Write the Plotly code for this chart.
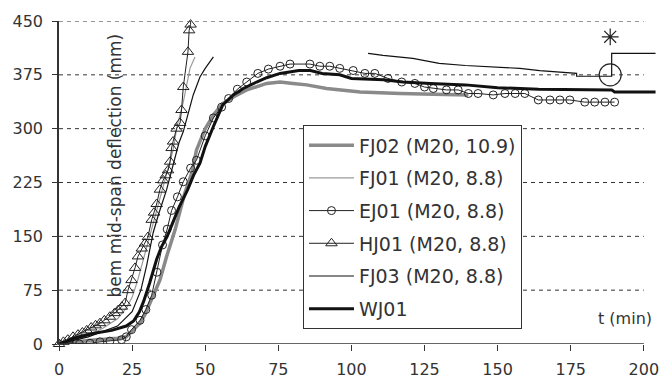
import plotly.graph_objects as go

# ---------------- data ----------------
X_TICKS = [0, 25, 50, 75, 100, 125, 150, 175, 200]
Y_TICKS = [0, 75, 150, 225, 300, 375, 450]

FJ02_T = [0, 10, 20, 23, 25, 27.7, 29.5, 31.1, 34.5, 36.8, 39.7, 43, 45.4, 47, 50, 53, 56, 59.6,
          64.2, 71, 75.6, 80, 84.7, 91.5, 96, 103, 116.6, 140]
FJ02_D = [0, 5, 8, 10, 18, 29, 42, 57, 89, 122, 159, 210, 238, 270, 300, 320, 335, 344,
          354, 363, 365, 363, 361, 356, 354, 351, 349, 347]

FJ01_T = [0, 5, 10, 15, 20, 23, 25, 27, 29, 31, 33, 36.2, 39, 40.5, 42.5, 44.8, 45.9, 46.5]
FJ01_D = [0, 5, 12, 22, 35, 50, 65, 90, 120, 150, 180, 228, 270, 306, 337, 384, 393, 400]

EJ01_T = [0, 3.5, 7, 10.6, 14, 17.4, 21.4, 23, 24.8, 27.7, 29.7, 31.7, 33.5, 35.4, 37, 38.5, 40.5,
          42.5, 45, 47, 50, 52.8, 55.6, 58, 61, 64.2, 68, 71.6, 75.6, 79, 85.8, 89.2, 92.6, 96,
          100.6, 104.6, 108, 112.5, 117.2, 121.7, 125, 128, 132.5, 136.5, 140, 143.3, 148.5,
          152.5, 156, 159.3, 163.9, 167.9, 171.3, 174.7, 179.8, 183.2, 186.7, 190]
EJ01_D = [0, 0, 0, 1, 3, 4, 6, 10, 20, 33, 48, 68, 100, 138, 160, 186, 205,
          226, 245, 256, 290, 315, 330, 342, 355, 365, 377, 383, 387, 390, 390, 387, 387, 384,
          381, 377, 377, 370, 365, 363, 358, 356, 354, 354, 349, 349, 347,
          349, 349, 349, 340, 340, 340, 340, 337, 337, 337, 337]

HJ01_T = [0, 1.5, 3, 4.8, 6.5, 8, 9.5, 11, 12.5, 14, 15.5, 17.4, 19, 20.2, 21.5, 22.6, 23.6, 24.8,
          26, 27, 28.3, 29.4, 30.4, 31.7, 32.5, 33.4, 34.5, 35.6, 36.5, 37.3, 38, 38.5, 39, 40.2,
          41.4, 41.9, 42.5, 44.1, 44.5, 45, 45]
HJ01_D = [0, 3, 6, 10, 13, 16, 19, 23, 26, 29, 33, 38, 43, 47, 52, 57, 75, 89,
          106, 122, 133, 140, 149, 173, 183, 195, 215, 228, 235, 242, 254, 273, 282, 300,
          308, 326, 358, 407, 437, 445, 451]

FJ03_T = [0, 10, 20, 25, 28, 30, 32.2, 34, 36.8, 39, 41, 42.5, 44.8, 45.9, 48.2, 50, 52.8, None,
          105.7, 110.8, 121, 130, 139, 148.4, 157.6, 164.4, 171.3, 177, 177, 189, 189, 204]
FJ03_D = [0, 10, 25, 45, 75, 110, 155, 180, 215, 250, 280, 296, 328, 347, 372, 384, 400, None,
          405, 402, 398, 391, 388, 386, 384, 381, 379, 377, 373, 373, 405, 405]

WJ01_T = [0, 5, 12, 18, 23, 25.5, 27.5, 29, 31, 33.4, 35, 37, 38.5, 41, 44, 46, 48.2, 50, 52.8,
          56, 59.6, 63, 67.6, 71, 75.6, 82, 86, 90, 96, 100, 111, 117.6, 127, 139, 150, 164,
          189, 190, 204]
WJ01_D = [0, 8, 15, 19, 25, 32, 45, 60, 85, 118, 135, 150, 165, 190, 215, 235, 252, 275, 303,
          333, 347, 356, 365, 371, 377, 381, 381, 377, 375, 370, 368, 365, 363, 361, 357, 355,
          354, 351, 351]

FAIL_T = [188.5]
FAIL_CIRCLE_D = [375]
FAIL_STAR_D = [428]

INK = "#333333"
FONT = "DejaVu Sans"

fig = go.Figure()

fig.add_trace(go.Scatter(x=FJ02_T, y=FJ02_D, mode="lines", name="FJ02 (M20, 10.9)",
                         legendgroup="a", line=dict(color="#8a8a8a", width=3.5)))
fig.add_trace(go.Scatter(x=FJ01_T, y=FJ01_D, mode="lines", name="FJ01 (M20, 8.8)",
                         legendgroup="b", line=dict(color="#9a9a9a", width=1.2)))
fig.add_trace(go.Scatter(x=EJ01_T, y=EJ01_D, mode="lines+markers", name="EJ01 (M20, 8.8)",
                         legendgroup="c", line=dict(color="#222222", width=1),
                         marker=dict(symbol="circle-open", size=8, color="#222222",
                                     line=dict(width=1))))
fig.add_trace(go.Scatter(x=HJ01_T, y=HJ01_D, mode="lines+markers", name="HJ01 (M20, 8.8)",
                         legendgroup="d", cliponaxis=False, line=dict(color="#222222", width=1),
                         marker=dict(symbol="triangle-up-open", size=10, color="#222222",
                                     line=dict(width=1))))
fig.add_trace(go.Scatter(x=FJ03_T, y=FJ03_D, mode="lines", name="FJ03 (M20, 8.8)",
                         legendgroup="e", connectgaps=False,
                         line=dict(color="#111111", width=1.2)))
fig.add_trace(go.Scatter(x=WJ01_T, y=WJ01_D, mode="lines", name="WJ01",
                         legendgroup="f", line=dict(color="#111111", width=3)))
fig.add_trace(go.Scatter(x=FAIL_T, y=FAIL_CIRCLE_D, mode="markers", showlegend=False,
                         cliponaxis=False,
                         marker=dict(symbol="circle-open", size=22, color="#222222",
                                     line=dict(width=1.2))))
fig.add_trace(go.Scatter(x=FAIL_T, y=FAIL_STAR_D, mode="markers", showlegend=False,
                         cliponaxis=False,
                         marker=dict(symbol="asterisk-open", size=14, color="#222222",
                                     line=dict(width=1.2))))

shapes = []
for v in Y_TICKS[1:]:
    shapes.append(dict(type="line", xref="x", yref="y", x0=X_TICKS[0], x1=X_TICKS[-1], y0=v, y1=v,
                       line=dict(color=INK, width=1, dash="4px,4px"), layer="below"))
shapes.append(dict(type="line", xref="x", yref="y", x0=X_TICKS[0], x1=X_TICKS[-1], y0=0, y1=0,
                   line=dict(color=INK, width=1.5), layer="above"))

# The page body has an 8px default margin; size the figure so it fits the 670x380 window.
fig.update_layout(
    width=662, height=372,
    margin=dict(l=51, r=13, t=13, b=36, autoexpand=False),
    paper_bgcolor="white", plot_bgcolor="white",
    font=dict(family=FONT, color=INK, size=16),
    shapes=shapes,
    showlegend=True,
    legend=dict(x=0.408, y=0.677, xanchor="left", yanchor="top",
                bgcolor="white", bordercolor=INK, borderwidth=1,
                font=dict(size=19, family=FONT, color=INK),
                tracegroupgap=5, itemwidth=45),
    annotations=[
        dict(text="bem mid-span deflection (mm)", x=19, y=248, xref="x", yref="y",
             textangle=-90, showarrow=False, font=dict(size=17, family=FONT, color=INK)),
        dict(text="t (min)", x=193.6, y=35, xref="x", yref="y", showarrow=False,
             font=dict(size=16, family=FONT, color=INK)),
    ],
)
fig.update_xaxes(range=[0, 204.5], tickvals=X_TICKS, showline=False, showgrid=False,
                 zeroline=False, ticks="outside", ticklen=6, tickcolor=INK, tickwidth=1.2,
                 ticklabelstandoff=5, tickfont=dict(size=16), automargin=False)
fig.update_yaxes(range=[0, 450], tickvals=Y_TICKS, showline=True, linecolor=INK, linewidth=1.5,
                 showgrid=False, zeroline=False, ticks="outside", ticklen=5, tickcolor=INK,
                 tickwidth=1.2, ticklabelstandoff=6, tickfont=dict(size=16), automargin=False)

fig.write_html("out.html")
